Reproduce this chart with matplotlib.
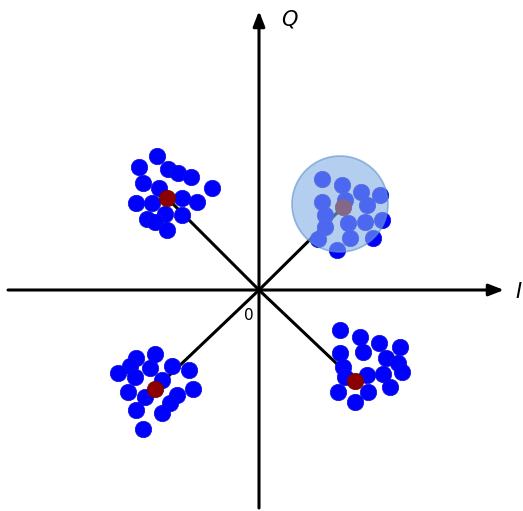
import matplotlib.pyplot as plt
from matplotlib.patches import Circle

# received symbols, one list per quadrant (I, Q)
ul_i = [-1.20, -1.02, -0.91, -0.81, -0.68, -1.16, -1.00, -0.47, -1.23, -1.07, -0.77, -0.62, -1.12, -0.94, -0.77, -1.04, -0.92]
ul_q = [1.23, 1.34, 1.21, 1.17, 1.13, 1.07, 1.02, 1.02, 0.87, 0.87, 0.92, 0.88, 0.71, 0.76, 0.75, 0.68, 0.60]
ur_i = [0.63, 0.83, 1.02, 1.21, 0.63, 0.86, 1.08, 0.66, 0.89, 1.06, 1.23, 0.66, 0.59, 0.91, 1.14, 0.78]
ur_q = [1.11, 1.05, 0.98, 0.95, 0.88, 0.90, 0.85, 0.75, 0.67, 0.68, 0.70, 0.63, 0.51, 0.52, 0.52, 0.40]
ll_i = [-1.23, -1.04, -1.29, -1.41, -1.09, -0.87, -0.70, -1.24, -0.97, -1.31, -1.14, -0.82, -0.66, -0.89, -1.23, -0.97, -1.16]
ll_q = [-0.68, -0.64, -0.76, -0.83, -0.78, -0.76, -0.80, -0.87, -0.90, -1.02, -1.07, -1.05, -0.99, -1.13, -1.20, -1.23, -1.39]
lr_i = [0.81, 1.01, 1.20, 1.41, 0.81, 1.04, 1.27, 1.39, 1.43, 0.84, 0.86, 1.08, 1.24, 0.79, 1.09, 1.31, 0.96]
lr_q = [-0.40, -0.47, -0.53, -0.57, -0.63, -0.62, -0.68, -0.73, -0.82, -0.77, -0.87, -0.85, -0.84, -1.02, -1.02, -0.97, -1.12]

# ideal constellation points
ref_i = [-0.92, 0.84, -1.04, 0.96]
ref_q = [0.92, 0.83, -0.99, -0.91]

# decision circle around upper right symbol
circ_center = (0.81, 0.86)
circ_radius = 0.48

fig = plt.figure(figsize=(5.23, 5.11), dpi=100)
ax = fig.add_axes([0, 0, 1, 1])
ax.set_xlim(-2.59, 2.64)
ax.set_ylim(-2.21, 2.90)
ax.axis('off')

# axes with arrows
arrow = dict(arrowstyle='-|>,head_length=0.9,head_width=0.35', color='black', lw=2.2, shrinkA=0, shrinkB=0)
ax.annotate('', xy=(2.45, 0), xytext=(-2.51, 0), arrowprops=arrow)
ax.annotate('', xy=(0, 2.79), xytext=(0, -2.18), arrowprops=arrow)

for x, y in zip(ref_i, ref_q):
    ax.plot([0, x], [0, y], color='black', lw=2.2, zorder=2)

for xs, ys in [(ul_i, ul_q), (ur_i, ur_q), (ll_i, ll_q), (lr_i, lr_q)]:
    ax.scatter(xs, ys, s=140, c='#0000ff', edgecolors='#1010d0', linewidths=0.5, zorder=3)

ax.scatter(ref_i, ref_q, s=140, c='#8b0000', edgecolors='#700000', linewidths=0.5, zorder=4)

ax.add_patch(Circle(circ_center, circ_radius, facecolor='#82aee6', edgecolor='#5b8fcc',
                    alpha=0.6, lw=1.2, zorder=5))

ax.text(0.30, 2.70, 'Q', fontsize=15, style='italic', ha='center', va='center')
ax.text(2.60, -0.02, 'I', fontsize=15, style='italic', ha='center', va='center')
ax.text(-0.10, -0.25, '0', fontsize=11, ha='center', va='center')

fig.savefig('out.png', dpi=100)
